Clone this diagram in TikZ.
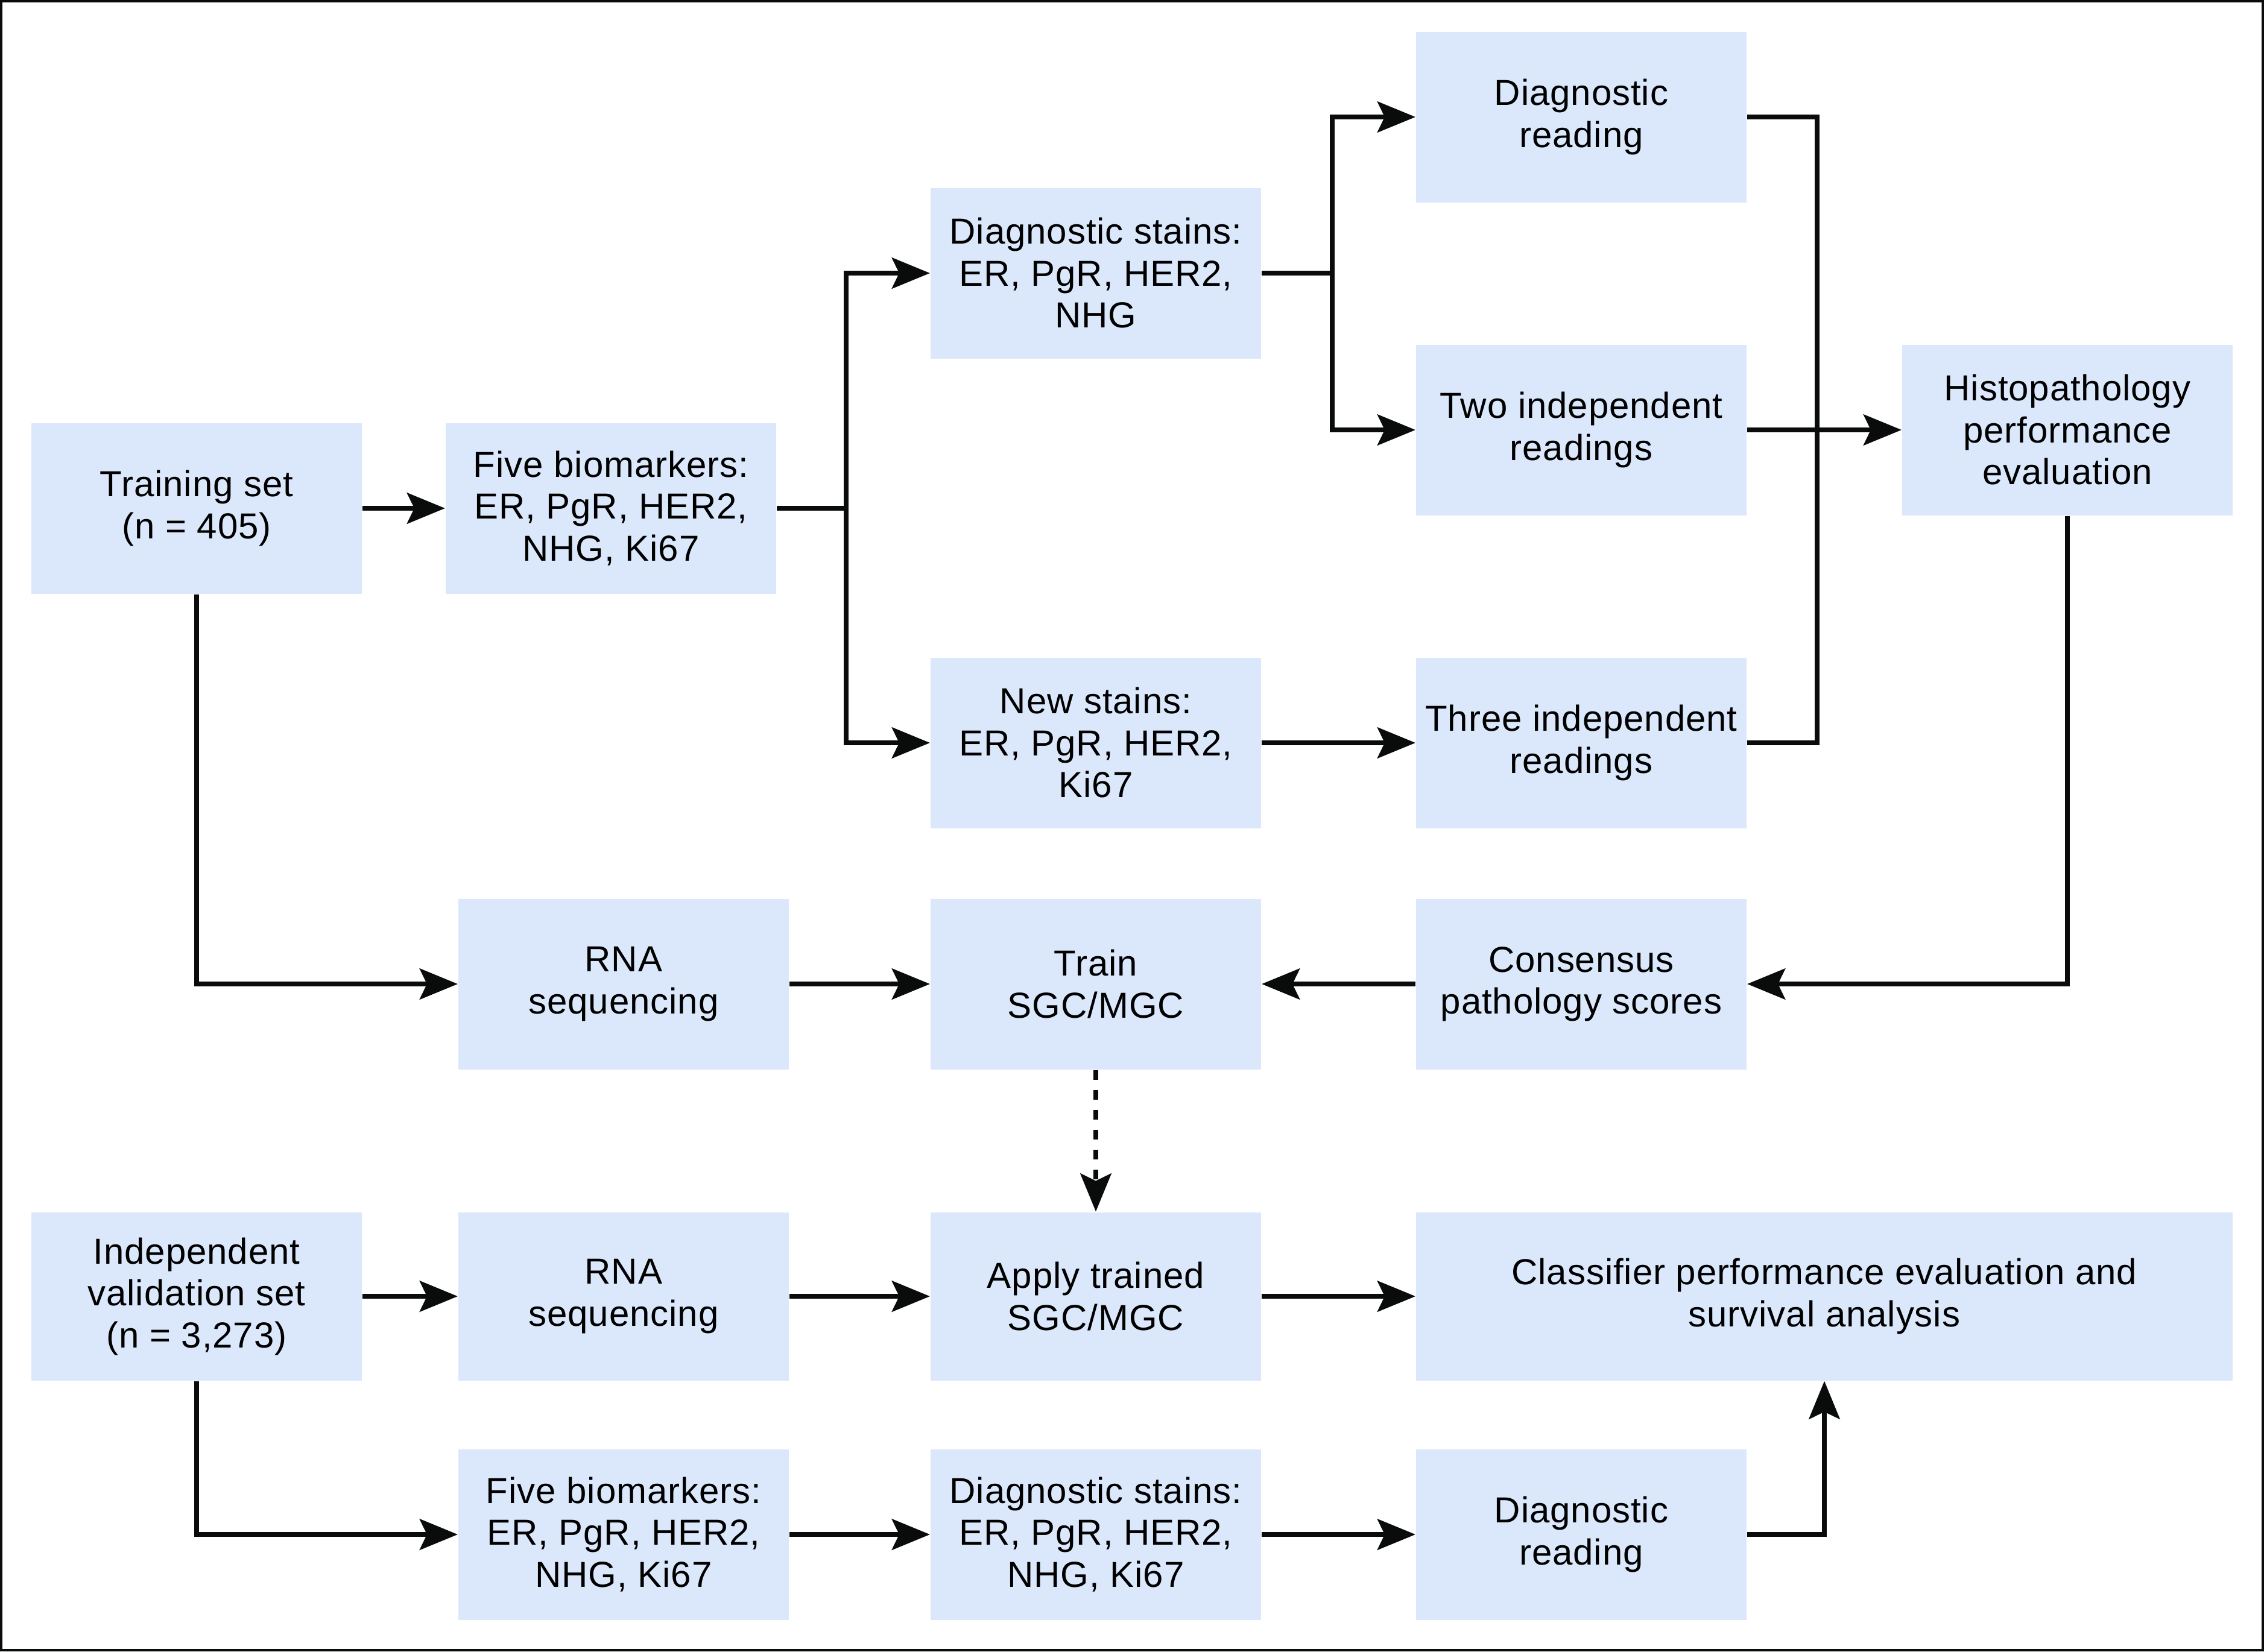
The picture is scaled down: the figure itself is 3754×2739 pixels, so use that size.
\documentclass[tikz,border=0pt]{standalone}
\usepackage{fontspec}
\setmainfont[LetterSpace=1.5]{Liberation Sans}
\usetikzlibrary{arrows.meta}
\definecolor{boxblue}{RGB}{219,232,251}
\definecolor{inkblack}{RGB}{10,12,11}
\tikzset{
  flowbox/.style={fill=boxblue, draw=none, minimum width=109.6pt, minimum height=56.6pt,
    inner sep=0pt, align=center, text=black, font=\fontsize{12}{13.9}\selectfont},
  wideflowbox/.style={flowbox, minimum width=270.8pt},
  conn/.style={draw=inkblack, line width=1.7pt},
  arr/.style={conn, -{Stealth[length=12.6pt, width=10.2pt, inset=2.4pt]}},
  dashconn/.style={arr, dash pattern=on 3.2pt off 3.4pt}
}
\begin{document}
\begin{tikzpicture}[x=0.2pt,y=-0.2pt]
\useasboundingbox (0,0) rectangle (3754,2739);
\draw[draw=inkblack, line width=0.8pt] (2,2) rectangle (3752,2737);

% nodes
\node[flowbox] (train)   at (326,843)   {Training set\\(n = 405)};
\node[flowbox] (five)    at (1013,843)  {Five biomarkers:\\ER, PgR, HER2,\\NHG, Ki67};
\node[flowbox] (dstain)  at (1817,453)  {Diagnostic stains:\\ER, PgR, HER2,\\NHG};
\node[flowbox] (nstain)  at (1817,1232) {New stains:\\ER, PgR, HER2,\\Ki67};
\node[flowbox] (dread)   at (2622,194)  {Diagnostic\\reading};
\node[flowbox] (two)     at (2622,713)  {Two independent\\readings};
\node[flowbox] (three)   at (2622,1232) {Three independent\\readings};
\node[flowbox] (histo)   at (3428,713)  {Histopathology\\performance\\evaluation};
\node[flowbox] (rnaA)    at (1034,1632) {RNA\\sequencing};
\node[flowbox] (trainc)  at (1817,1632) {Train\\SGC/MGC};
\node[flowbox] (cons)    at (2622,1632) {Consensus\\pathology scores};
\node[flowbox, minimum height=55.8pt] (indep)   at (326,2150)  {Independent\\validation set\\(n = 3,273)};
\node[flowbox, minimum height=55.8pt] (rnaB)    at (1034,2150) {RNA\\sequencing};
\node[flowbox, minimum height=55.8pt] (apply)   at (1817,2150) {Apply trained\\SGC/MGC};
\node[wideflowbox, minimum height=55.8pt] (classif) at (3025,2150) {Classifier performance evaluation and\\survival analysis};
\node[flowbox] (fiveB)   at (1034,2545) {Five biomarkers:\\ER, PgR, HER2,\\NHG, Ki67};
\node[flowbox] (dstainB) at (1817,2545) {Diagnostic stains:\\ER, PgR, HER2,\\NHG, Ki67};
\node[flowbox] (dreadB)  at (2622,2545) {Diagnostic\\reading};

% branch points
\coordinate (b1) at (1403,843);
\coordinate (b2) at (2209,453);
\coordinate (c2) at (3013,1232);

% connectors
\draw[arr] (train.east) -- (five.west);
\draw[conn] (five.east) -- (b1);
\draw[arr] (b1) |- (dstain.west);
\draw[arr] (b1) |- (nstain.west);
\draw[conn] (dstain.east) -- (b2);
\draw[arr] (b2) |- (dread.west);
\draw[arr] (b2) |- (two.west);
\draw[arr] (nstain.east) -- (three.west);
\draw[conn] (dread.east) -| (c2) -- (three.east);
\draw[arr] (two.east) -- (histo.west);
\draw[arr] (histo.south) |- (cons.east);
\draw[arr] (cons.west) -- (trainc.east);
\draw[arr] (rnaA.east) -- (trainc.west);
\draw[arr] (train.south) |- (rnaA.west);
\draw[dashconn] (trainc.south) -- (apply.north);
\draw[arr] (indep.east) -- (rnaB.west);
\draw[arr] (rnaB.east) -- (apply.west);
\draw[arr] (apply.east) -- (classif.west);
\draw[arr] (indep.south) |- (fiveB.west);
\draw[arr] (fiveB.east) -- (dstainB.west);
\draw[arr] (dstainB.east) -- (dreadB.west);
\draw[arr] (dreadB.east) -| (classif.south);
\end{tikzpicture}
\end{document}
